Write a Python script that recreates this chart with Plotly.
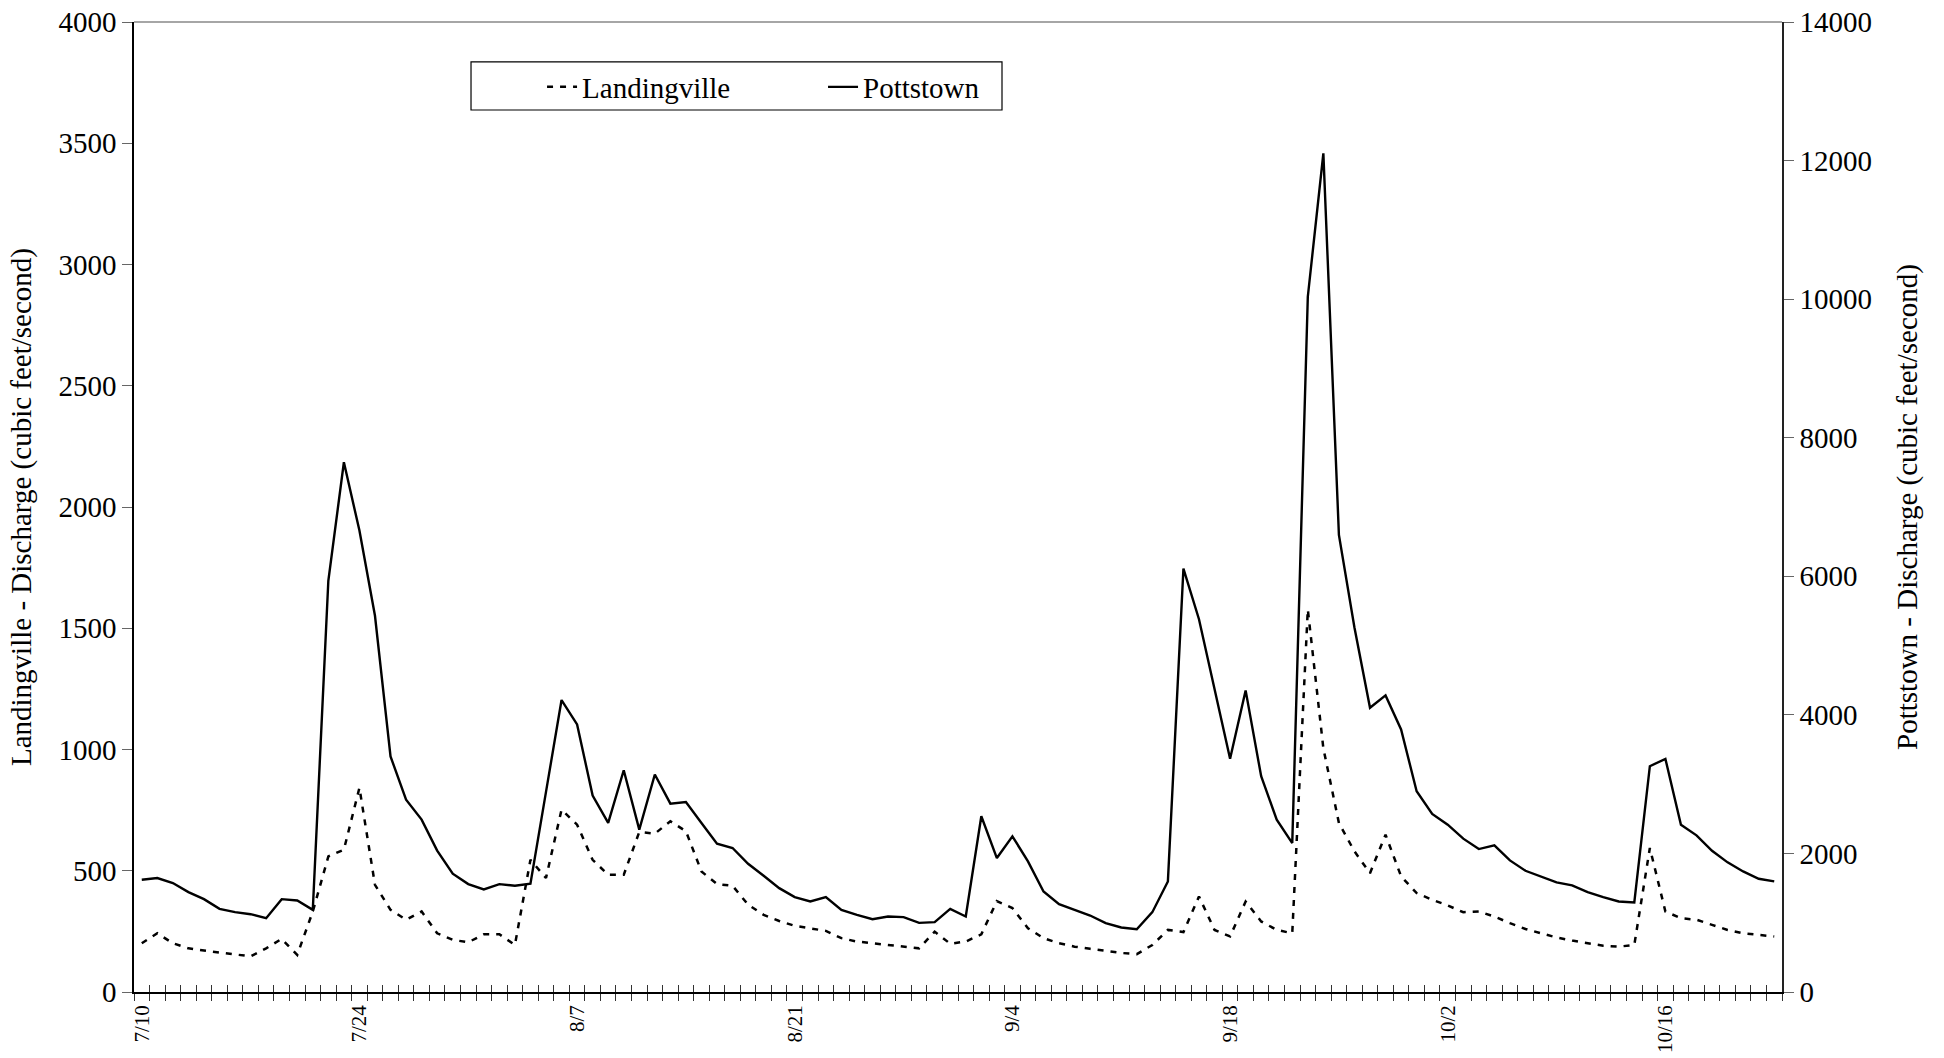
import plotly.graph_objects as go
import pandas as pd

# Daily categories 7/10 .. 10/23
dates = [f"{d.month}/{d.day}" for d in pd.date_range("2001-07-10", "2001-10-23", freq="D")]
tick_labels = dates[::14]

landingville = [
    201, 242, 201, 180, 171, 163, 156, 147, 180, 219,
    153, 332, 559, 587, 842, 442, 339, 298, 332, 242,
    215, 205, 238, 238, 194, 545, 470, 752, 690, 545,
    483, 483, 660, 653, 704, 663, 497, 445, 438, 360,
    318, 293, 273, 263, 252, 222, 208, 201, 194, 185,
    180, 249, 199, 208, 238, 375, 346, 263, 222, 201,
    187, 178, 169, 161, 156, 194, 256, 247, 394, 256,
    229, 373, 291, 256, 242, 1578, 1005, 697, 580, 490,
    649, 477, 408, 380, 357, 329, 332, 311, 284, 260,
    242, 225, 212, 201, 191, 187, 194, 594, 332, 304,
    298, 277, 256, 242, 236, 229,
]

pottstown = [
    1620, 1644, 1572, 1441, 1340, 1200, 1152, 1123, 1065, 1340,
    1320, 1186, 5935, 7646, 6660, 5430, 3400, 2776, 2488, 2040,
    1707, 1557, 1480, 1557, 1533, 1562, 2888, 4214, 3862, 2835,
    2440, 3201, 2343, 3139, 2719, 2743, 2440, 2141, 2078, 1851,
    1677, 1499, 1369, 1306, 1369, 1186, 1114, 1051, 1089, 1080,
    998, 1008, 1200, 1089, 2536, 1933, 2247, 1885, 1451, 1268,
    1186, 1104, 993, 931, 906, 1152, 1596, 6110, 5380, 4392,
    3365, 4353, 3114, 2488, 2150, 10035, 12104, 6598, 5260, 4103,
    4281, 3789, 2897, 2570, 2415, 2213, 2063, 2116, 1899, 1750,
    1668, 1581, 1538, 1441, 1369, 1306, 1292, 3259, 3365, 2415,
    2261, 2039, 1871, 1740, 1634, 1596,
]

idx = list(range(len(dates)))
tick_pos = idx[::14]

FONT = "Liberation Serif, Times New Roman, serif"
n = len(dates)
xr = [-0.5, n - 0.5]

fig = go.Figure()
fig.add_trace(go.Scatter(
    x=idx, y=landingville, name="Landingville", mode="lines",
    line=dict(color="black", width=2.5, dash="6px,7px"),
    customdata=dates, hovertemplate="%{customdata}: %{y}<extra>Landingville</extra>",
    xaxis="x", yaxis="y", legend="legend",
))
fig.add_trace(go.Scatter(
    x=idx, y=pottstown, name="Pottstown", mode="lines",
    line=dict(color="black", width=2.4),
    customdata=dates, hovertemplate="%{customdata}: %{y}<extra>Pottstown</extra>",
    xaxis="x2", yaxis="y2", legend="legend2",
))

tickfont = dict(family=FONT, size=29, color="black")
legfont = dict(family=FONT, size=29, color="black")

fig.update_layout(
    width=1944, height=1058,
    margin=dict(l=134, r=162, t=22, b=66),
    paper_bgcolor="white", plot_bgcolor="white",
    font=dict(family=FONT, size=29, color="black"),
    showlegend=True,
    legend=dict(
        x=0.2476, y=0.933, xanchor="left", yanchor="middle",
        bgcolor="rgba(0,0,0,0)", borderwidth=0, font=legfont,
    ),
    legend2=dict(
        x=0.4181, y=0.933, xanchor="left", yanchor="middle",
        bgcolor="rgba(0,0,0,0)", borderwidth=0, font=legfont,
    ),
    xaxis=dict(
        range=xr, tickmode="array", tickvals=tick_pos, ticktext=tick_labels,
        tickangle=-90, ticks="", showgrid=False, zeroline=False,
        showline=True, linecolor="black", linewidth=1.5,
        tickfont=dict(family=FONT, size=21, color="black"),
        ticklabelstandoff=3, automargin=False,
        minor=dict(tickmode="linear", tick0=-0.5, dtick=1, ticks="outside",
                   ticklen=7, tickcolor="#333", tickwidth=1, showgrid=False),
    ),
    xaxis2=dict(
        range=xr, overlaying="x", anchor="y", side="bottom",
        tickmode="linear", tick0=-0.5, dtick=1, ticks="inside", ticklen=7,
        tickcolor="#333", tickwidth=1, showticklabels=False,
        showgrid=False, zeroline=False, showline=False, automargin=False,
    ),
    yaxis=dict(
        range=[0, 4000], tickmode="linear", tick0=0, dtick=500,
        ticks="outside", ticklen=10, tickcolor="#666", tickwidth=1,
        showgrid=False, zeroline=False, showline=True, linecolor="black", linewidth=1.5,
        tickfont=tickfont, tickformat="d", automargin=False,
        title=dict(text="Landingville - Discharge (cubic feet/second)",
                   font=dict(family=FONT, size=29, color="black"), standoff=18),
    ),
    yaxis2=dict(
        range=[0, 14000], tickmode="linear", tick0=0, dtick=2000,
        overlaying="y", side="right", anchor="x",
        ticks="outside", ticklen=10, tickcolor="#666", tickwidth=1,
        showgrid=False, zeroline=False, showline=True, linecolor="#222", linewidth=1.5,
        tickfont=tickfont, tickformat="d", automargin=False,
        title=dict(text="Pottstown - Discharge (cubic feet/second)",
                   font=dict(family=FONT, size=29, color="black"), standoff=26),
    ),
    shapes=[
        dict(type="line", xref="paper", yref="paper", x0=0, x1=1, y0=1, y1=1,
             line=dict(color="#888", width=1.5)),
        dict(type="rect", xref="paper", yref="paper", x0=0.2045, x1=0.5267,
             y0=0.9093, y1=0.9588, line=dict(color="black", width=1.2),
             fillcolor="rgba(0,0,0,0)", layer="below"),
    ],
)

fig.write_html("out.html")
